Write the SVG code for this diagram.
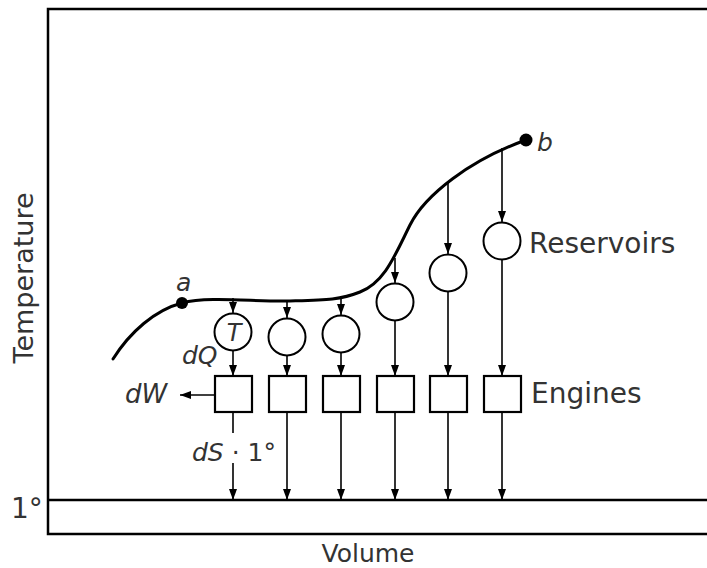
<svg xmlns="http://www.w3.org/2000/svg" width="707" height="568" viewBox="0 0 707 568">
<defs>
<marker id="ah" markerUnits="userSpaceOnUse" markerWidth="8" markerHeight="11" refX="4" refY="11" orient="0">
<path d="M0,0 L8,0 L4,11 z" fill="#000"/>
</marker>
<marker id="ahl" markerUnits="userSpaceOnUse" markerWidth="11" markerHeight="8" refX="0" refY="4" orient="0">
<path d="M0,4 L11,0 L11,8 z" fill="#000"/>
</marker>
<style>
.frame{fill:none;stroke:#000;stroke-width:2.5}
.curve{fill:none;stroke:#000;stroke-width:3;stroke-linecap:round}
.res{fill:#fff;stroke:#000;stroke-width:2}
.eng{fill:#fff;stroke:#000;stroke-width:2.2}
.ln{stroke:#000;stroke-width:1.6;fill:none}
.lab{font-family:"DejaVu Sans",sans-serif;fill:#333}
.it{font-family:"DejaVu Sans",sans-serif;font-style:italic;fill:#333}
</style>
</defs>
<rect width="707" height="568" fill="#fff"/>
<g id="frame">
<path class="frame" d="M707,9 H48 V534 H707"/>
<path class="frame" d="M48,500 H707"/>
</g>
<g id="connectors">
<path class="ln" d="M233,298 V313" marker-end="url(#ah)"/>
<path class="ln" d="M287,300 V318" marker-end="url(#ah)"/>
<path class="ln" d="M341,298 V315" marker-end="url(#ah)"/>
<path class="ln" d="M395,258 V283" marker-end="url(#ah)"/>
<path class="ln" d="M448,182 V254" marker-end="url(#ah)"/>
<path class="ln" d="M502,148 V222" marker-end="url(#ah)"/>
<path class="ln" d="M233,350 V376" marker-end="url(#ah)"/>
<path class="ln" d="M287,355 V376" marker-end="url(#ah)"/>
<path class="ln" d="M341,352 V376" marker-end="url(#ah)"/>
<path class="ln" d="M395,320 V376" marker-end="url(#ah)"/>
<path class="ln" d="M448,291 V376" marker-end="url(#ah)"/>
<path class="ln" d="M502,259 V376" marker-end="url(#ah)"/>
<path class="ln" d="M233,412 V433"/>
<path class="ln" d="M233,463 V500" marker-end="url(#ah)"/>
<path class="ln" d="M287,412 V500" marker-end="url(#ah)"/>
<path class="ln" d="M341,412 V500" marker-end="url(#ah)"/>
<path class="ln" d="M395,412 V500" marker-end="url(#ah)"/>
<path class="ln" d="M448,412 V500" marker-end="url(#ah)"/>
<path class="ln" d="M502,412 V500" marker-end="url(#ah)"/>
<path class="ln" d="M214,395 H180" marker-end="url(#ahl)"/>
</g>
<g id="process-curve">
<path class="curve" d="M113,359 C130,332 155,310 182,303 C209,296 255,302 290,301 C325,300 340,300 360,292 C385,282 395,255 410,225 C425,195 470,160 526,140"/>
</g>
<g id="point-a">
<circle cx="182" cy="303" r="6" fill="#000"/>
<text class="it" x="176" y="291" font-size="25">a</text>
</g>
<g id="point-b">
<circle cx="526" cy="140" r="6.5" fill="#000"/>
<text class="it" x="537" y="151" font-size="25">b</text>
</g>
<g id="reservoir-1"><circle class="res" cx="233" cy="332" r="18.5"/><text class="it" x="234" y="341" font-size="24" text-anchor="middle">T</text></g>
<g id="reservoir-2"><circle class="res" cx="287" cy="337" r="18.5"/></g>
<g id="reservoir-3"><circle class="res" cx="341" cy="334" r="18.5"/></g>
<g id="reservoir-4"><circle class="res" cx="395" cy="302" r="18.5"/></g>
<g id="reservoir-5"><circle class="res" cx="448" cy="273" r="18.5"/></g>
<g id="reservoir-6"><circle class="res" cx="502" cy="241" r="18.5"/></g>
<g id="engine-1"><rect class="eng" x="215" y="376" width="37" height="36"/></g>
<g id="engine-2"><rect class="eng" x="269" y="376" width="37" height="36"/></g>
<g id="engine-3"><rect class="eng" x="323" y="376" width="37" height="36"/></g>
<g id="engine-4"><rect class="eng" x="377" y="376" width="37" height="36"/></g>
<g id="engine-5"><rect class="eng" x="430" y="376" width="37" height="36"/></g>
<g id="engine-6"><rect class="eng" x="484" y="376" width="37" height="36"/></g>
<g id="labels">
<text class="lab" x="529" y="253" font-size="28">Reservoirs</text>
<text class="lab" x="531" y="403" font-size="28">Engines</text>
<text class="it" x="182" y="364" font-size="25">dQ</text>
<text class="it" x="125" y="403" font-size="26">dW</text>
<text class="lab" x="192" y="461" font-size="25"><tspan font-style="italic">dS</tspan> · 1°</text>
<text class="lab" x="11" y="518" font-size="28">1°</text>
<text class="lab" x="368" y="562" font-size="25" text-anchor="middle">Volume</text>
<text class="lab" transform="translate(33,278) rotate(-90)" font-size="27" text-anchor="middle">Temperature</text>
</g>
</svg>
